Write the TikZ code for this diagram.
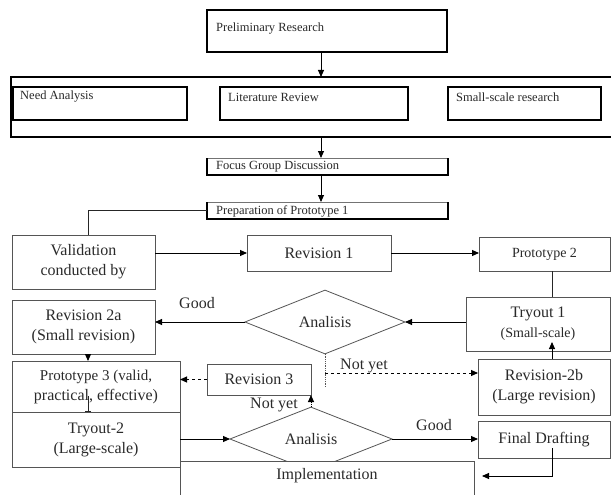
\documentclass[tikz,border=0pt]{standalone}
\usepackage{fontspec}
\setmainfont{Liberation Serif}
\usetikzlibrary{arrows.meta,calc,shapes.geometric}
\definecolor{ink}{HTML}{2A2A2A}
\definecolor{edge}{HTML}{555555}
\begin{document}
\begin{tikzpicture}[x=1pt,y=-1pt,
  thickbox/.style={draw=black,line width=1.8pt,inner sep=0pt,outer sep=0pt,anchor=north west},
  thinbox/.style={draw=black!55,line width=0.8pt,inner sep=0pt,outer sep=0pt,anchor=north west},
  box/.style={draw=edge,line width=0.8pt,fill=white,inner sep=0pt,outer sep=0pt,anchor=north west,align=center,text=ink,font=\fontsize{16}{20}\selectfont},
  toptext/.style={anchor=west,inner sep=0pt,text=ink,font=\fontsize{12.5}{14}\selectfont},
  lbl/.style={inner sep=0pt,text=ink,font=\fontsize{16}{19}\selectfont},
  arr/.style={draw=black,line width=0.9pt,-{Triangle[length=7pt,width=6pt]}},
  ln/.style={draw=black!85,line width=0.9pt},
  dia/.style={draw=edge,line width=0.8pt,diamond,inner sep=0pt,outer sep=0pt,text=ink,font=\fontsize{16}{19}\selectfont}
]
\useasboundingbox (0,0) rectangle (611,495);
\clip (0,0) rectangle (611,495);
\fill[white] (0,0) rectangle (611,495);

\coordinate (ax) at (321,0);
\coordinate (lx) at (88,0);
\coordinate (tx) at (552,0);
\coordinate (ny) at (0,373);

% top section
\node[thickbox,minimum width=240,minimum height=42] (prelim) at (207,10) {};
\node[toptext] (prelimt) at (216,29) {Preliminary Research};
\node[thickbox,minimum width=610,minimum height=60] (big) at (11,77) {};
\node[thickbox,minimum width=174,minimum height=33] (need) at (13,87) {};
\node[toptext] (needt) at (20,97) {Need Analysis};
\node[thickbox,minimum width=188,minimum height=33] (lit) at (220,87) {};
\node[toptext] (litt) at (228,97) {Literature Review};
\node[thickbox,minimum width=153,minimum height=33] (ss) at (448,87) {};
\node[toptext] (sst) at (456,97) {Small-scale research};

\node[thinbox,minimum width=241,minimum height=17] (fg) at (207,158) {};
\draw[line width=2pt] (fg.north west) -- (fg.south west) -- (fg.south east) -- (fg.north east);
\node[toptext] (fgt) at (216,167) {Focus Group Discussion};
\node[thinbox,minimum width=241,minimum height=17] (prep) at (207,202) {};
\draw[line width=2pt] (prep.north west) -- (prep.south west) -- (prep.south east) -- (prep.north east);
\node[toptext] (prept) at (216,211) {Preparation of Prototype 1};

\draw[arr] (prelim.south -| ax) -- (big.north -| ax);
\draw[arr] (big.south -| ax) -- (fg.north -| ax);
\draw[arr] (fg.south -| ax) -- (prep.north -| ax);

% lower boxes
\node[box,minimum width=143,minimum height=54] (val) at (12,235) {Validation\\conducted by};
\node[box,minimum width=144,minimum height=36] (rev1) at (247,235) {Revision 1};
\node[box,minimum width=131,minimum height=34] (prot2) at (479,237) {\fontsize{14}{16}\selectfont Prototype 2};
\node[box,minimum width=144,minimum height=54] (try1) at (466,297) {Tryout 1\\{\fontsize{14}{16}\selectfont (Small-scale)}};
\node[dia,minimum width=160,minimum height=54] (d1) at (325,322) {Analisis};
\node[box,minimum width=143,minimum height=54] (rev2a) at (12,300) {Revision 2a\\(Small revision)};
\node[box,minimum width=168,minimum height=51] (prot3) at (12,361) {\fontsize{15}{20}\selectfont Prototype 3 (valid,\\practical, effective)};
\node[box,minimum width=168,minimum height=55] (try2) at (12,412) {Tryout-2\\(Large-scale)};
\node[box,minimum width=104,minimum height=31] (rev3) at (207,364) {Revision 3};
\node[box,minimum width=132,minimum height=56] (rev2b) at (478,359) {Revision-2b\\(Large revision)};
\node[dia,minimum width=162,minimum height=58] (d2) at (311,439) {Analisis};
\node[box,minimum width=132,minimum height=37] (final) at (478,421) {Final Drafting};
\node[box,minimum width=294,minimum height=45] (impl) at (180,461) {};
\node[lbl] (implt) at (327,476) {Implementation};

% labels
\node[lbl] (good1) at (197,303) {Good};
\node[lbl] (good2) at (434,425) {Good};
\node[lbl] (ny1) at (364,366) {Not yet};
\node[lbl] (ny2) at (274,405) {Not yet};

% connectors
\draw[ln] (prep.west) -| (val.north -| lx);
\draw[arr] (val.east |- rev1.west) -- (rev1.west);
\draw[arr] (rev1.east) -- (rev1.east -| prot2.west);
\draw[ln] (prot2.south -| tx) -- (try1.north -| tx);
\draw[arr] (d1.east -| try1.west) -- (d1.east);
\draw[arr] (d1.west) -- (d1.west -| rev2a.east);
\draw[arr] (rev2a.south -| lx) -- (prot3.north -| lx);
\coordinate (pb) at (88,396);
\draw[ln,-{Bar[width=6pt]}] (pb) -- (try2.north -| lx);
\draw[arr,dashed] (rev3.west) -- (rev3.west -| prot3.east);
\draw[arr,densely dotted] (d2.north) -- (rev3.south east);
\coordinate (dd) at (325,388);
\draw[draw=edge,line width=0.8pt,densely dotted] (d1.south) -- (dd);
\draw[arr,dashed] (d1.south |- ny) -- (rev2b.west |- ny);
\draw[arr] (rev2b.north -| tx) -- ($(try1.south -| tx)+(0,-9)$);
\draw[arr] (d2.west -| try2.east) -- (d2.west);
\draw[arr] (d2.east) -- (d2.east -| final.west);
\coordinate (fdin) at (552,448);
\coordinate (fdend) at (482,476);
\draw[arr] (fdin) |- (fdend);
\end{tikzpicture}
\end{document}
